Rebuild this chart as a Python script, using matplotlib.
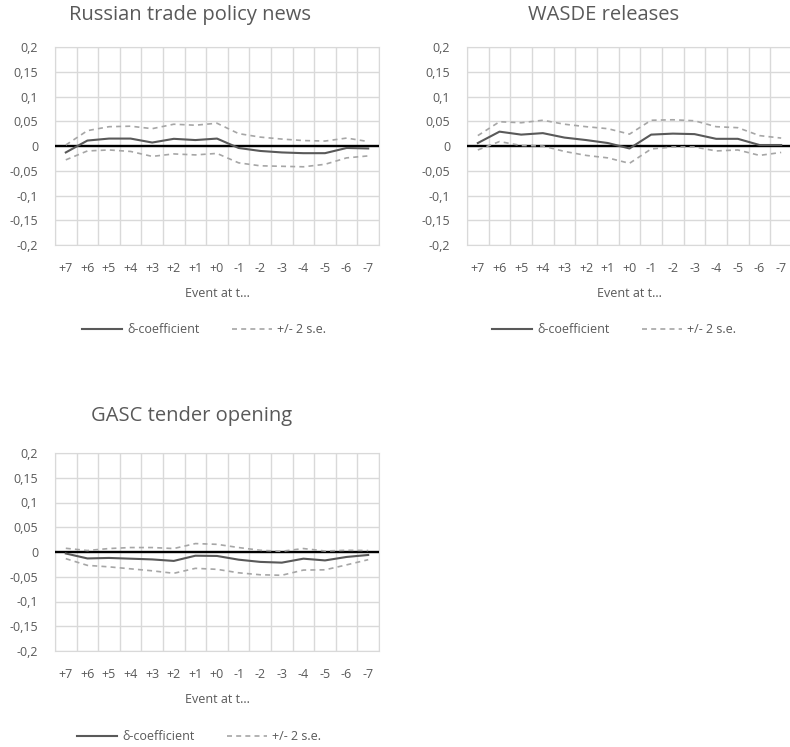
import matplotlib
matplotlib.use("Agg")
import matplotlib.pyplot as plt
from matplotlib.lines import Line2D
import numpy as np

plt.rcParams['font.family'] = ['Open Sans', 'DejaVu Sans']

categories = ["+7", "+6", "+5", "+4", "+3", "+2", "+1", "+0", "-1", "-2", "-3", "-4", "-5", "-6", "-7"]
y_ticks = [0.2, 0.15, 0.1, 0.05, 0, -0.05, -0.1, -0.15, -0.2]
y_tick_labels = ["0,2", "0,15", "0,1", "0,05", "0", "-0,05", "-0,1", "-0,15", "-0,2"]

titles = ["Russian trade policy news", "WASDE releases", "GASC tender opening"]
legend_labels = ["δ-coefficient", "+/- 2 s.e."]
x_label = "Event at t..."

russia_coef = [-0.013, 0.011, 0.015, 0.015, 0.007, 0.0145, 0.012, 0.015, -0.004, -0.010, -0.013, -0.0145, -0.0145, -0.004, -0.005]
russia_upper = [0.002, 0.031, 0.039, 0.040, 0.035, 0.044, 0.042, 0.046, 0.025, 0.018, 0.014, 0.011, 0.010, 0.016, 0.009]
russia_lower = [-0.028, -0.010, -0.008, -0.011, -0.021, -0.016, -0.018, -0.015, -0.034, -0.040, -0.041, -0.042, -0.037, -0.024, -0.020]

wasde_coef = [0.006, 0.029, 0.023, 0.026, 0.017, 0.012, 0.006, -0.005, 0.023, 0.025, 0.024, 0.0145, 0.0145, 0.002, 0.002]
wasde_upper = [0.021, 0.049, 0.047, 0.052, 0.044, 0.039, 0.035, 0.024, 0.052, 0.053, 0.051, 0.039, 0.037, 0.021, 0.016]
wasde_lower = [-0.008, 0.009, 0.001, 0.000, -0.011, -0.019, -0.024, -0.035, -0.006, -0.002, -0.002, -0.010, -0.008, -0.019, -0.013]

gasc_coef = [-0.003, -0.013, -0.012, -0.0135, -0.015, -0.018, -0.0075, -0.008, -0.0155, -0.020, -0.0215, -0.0135, -0.017, -0.010, -0.006]
gasc_upper = [0.0075, 0.003, 0.007, 0.009, 0.009, 0.007, 0.017, 0.0155, 0.009, 0.0035, 0.0015, 0.007, 0.002, 0.0035, 0.003]
gasc_lower = [-0.0135, -0.027, -0.030, -0.034, -0.038, -0.043, -0.033, -0.035, -0.042, -0.046, -0.047, -0.0365, -0.036, -0.026, -0.0155]

W, H = 790, 747
fig = plt.figure(figsize=(W / 100, H / 100), dpi=100)

TEXT = "#595959"
GRID = "#d9d9d9"
SOLID = "#595959"
DASH = "#a6a6a6"
DASH_STYLE = (0, (3, 2.5))

# (left, top, right, bottom) px, title centre, legend start (x, y) px
panels = [
    ((55, 47, 379, 245), titles[0], russia_coef, russia_upper, russia_lower, (190, 15), (82, 330)),
    ((467, 47, 792, 245), titles[1], wasde_coef, wasde_upper, wasde_lower, (604, 15), (492, 330)),
    ((55, 453, 379, 651), titles[2], gasc_coef, gasc_upper, gasc_lower, (192, 416), (77, 737)),
]

for (box, title, coef, up, lo, tpos, lpos) in panels:
    l, t, r, b = box
    ax = fig.add_axes([l / W, 1 - b / H, (r - l) / W, (b - t) / H])
    x = np.arange(len(categories))
    ax.set_xlim(-0.5, len(categories) - 0.5)
    ax.set_ylim(-0.2, 0.2)
    ax.set_yticks(y_ticks)
    ax.set_yticklabels(y_tick_labels)
    ax.set_xticks(x)
    ax.set_xticklabels(categories)
    ax.set_xticks(np.arange(-0.5, len(categories)), minor=True)
    ax.grid(True, which='minor', axis='x', color=GRID, lw=1)
    ax.grid(True, which='major', axis='y', color=GRID, lw=1)
    ax.tick_params(which='both', length=0, colors=TEXT, labelsize=9)
    ax.tick_params(axis='y', pad=12)
    ax.tick_params(axis='x', pad=12)
    for s in ax.spines.values():
        s.set_color(GRID)
    ax.set_axisbelow(True)
    ax.axhline(0, color="black", lw=1.7, zorder=3)
    ax.plot(x, up, color=DASH, lw=1.2, ls=DASH_STYLE, zorder=4)
    ax.plot(x, lo, color=DASH, lw=1.2, ls=DASH_STYLE, zorder=4)
    ax.plot(x, coef, color=SOLID, lw=1.5, zorder=5)
    ax.set_xlabel(x_label, color=TEXT, fontsize=9, labelpad=9)
    fig.text(tpos[0] / W, 1 - tpos[1] / H, title, fontsize=14.5, color=TEXT,
             ha='center', va='center')
    handles = [Line2D([], [], color=SOLID, lw=1.5),
               Line2D([], [], color=DASH, lw=1.2, ls=DASH_STYLE)]
    fig.legend(handles, legend_labels, loc='center left',
               bbox_to_anchor=(lpos[0] / W, 1 - lpos[1] / H), ncol=2, frameon=False,
               fontsize=9, labelcolor=TEXT, handlelength=3.2, handletextpad=0.4,
               columnspacing=2.6, borderpad=0, borderaxespad=0)

fig.savefig("out.png", dpi=100)
